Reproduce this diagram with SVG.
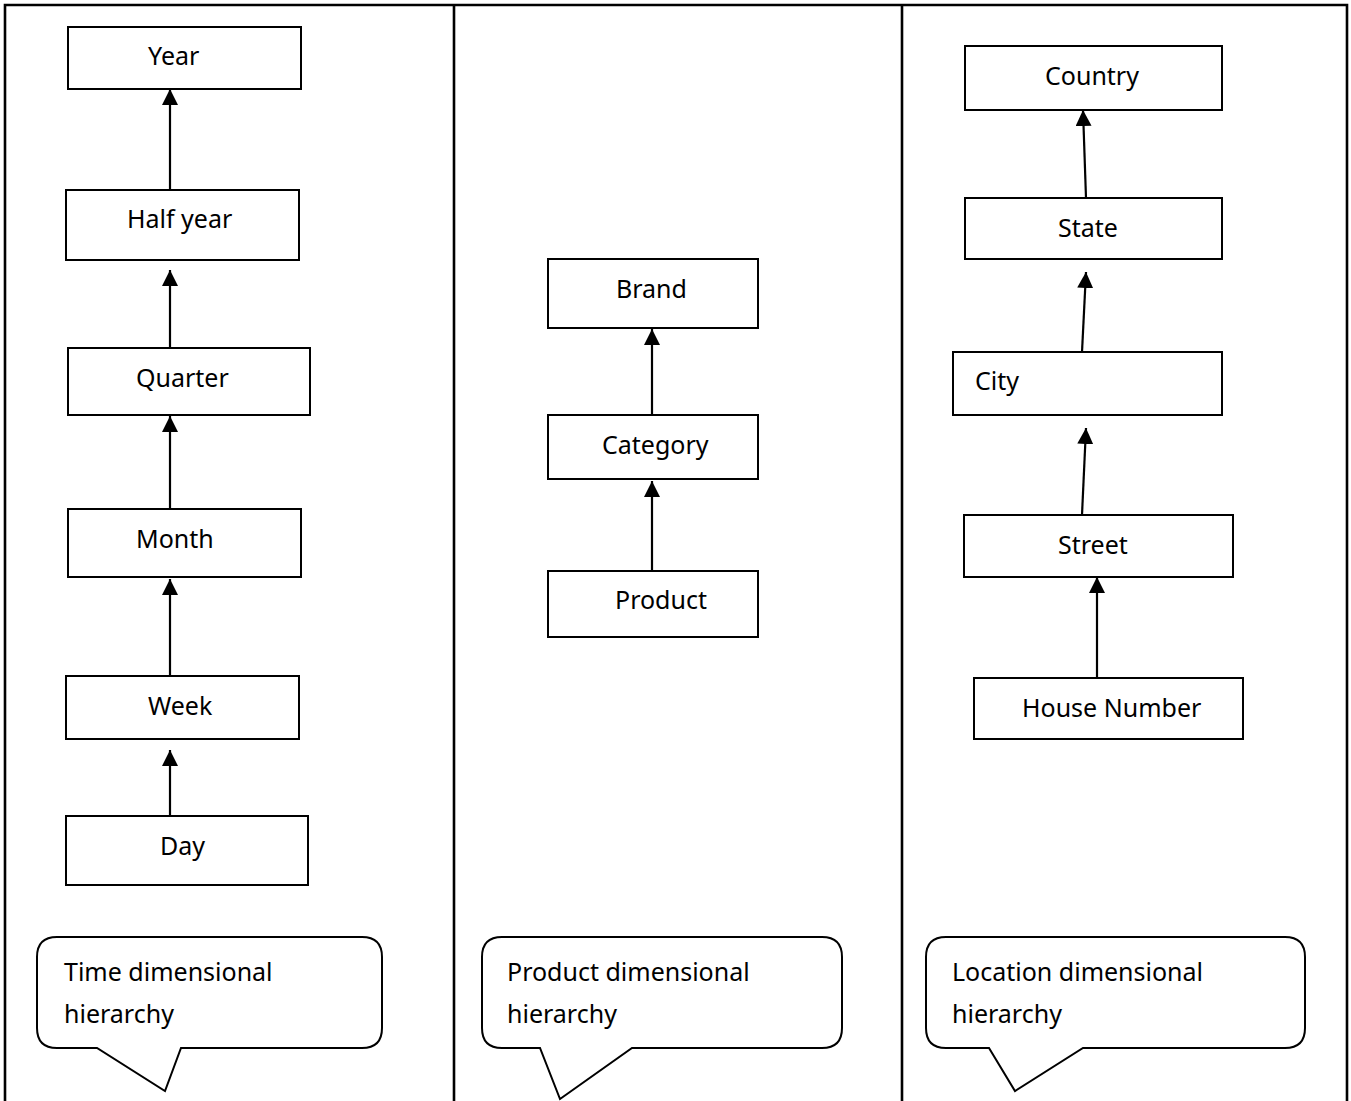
<svg xmlns="http://www.w3.org/2000/svg" width="1351" height="1101" viewBox="0 0 1351 1101">
<style>
.frame{stroke:#000;stroke-width:2.6;fill:none}
.box{fill:#fff;stroke:#000;stroke-width:2}
.lbl{font-family:"Noto Sans","Open Sans",sans-serif;font-size:25px;fill:#000}
.call{fill:#fff;stroke:#000;stroke-width:2;stroke-linejoin:miter}
</style>
<defs>
<marker id="tri" markerUnits="userSpaceOnUse" markerWidth="16" markerHeight="16" viewBox="0 0 16 16" refX="16" refY="8" orient="auto">
<path d="M0,0 L16,8 L0,16 Z" fill="#000"/>
</marker>
</defs>
<rect width="1351" height="1101" fill="#fff"/>
<g id="frame">
<path class="frame" d="M5,1101 V5 H1347 V1101"/>
<line class="frame" x1="454" y1="5" x2="454" y2="1101"/>
<line class="frame" x1="902" y1="5" x2="902" y2="1101"/>
</g>
<g id="connectors" stroke="#000" stroke-width="2.2" fill="none">
<line x1="170" y1="190" x2="170" y2="89" marker-end="url(#tri)"/>
<line x1="170" y1="348" x2="170" y2="270" marker-end="url(#tri)"/>
<line x1="170" y1="515" x2="170" y2="416" marker-end="url(#tri)"/>
<line x1="170" y1="676" x2="170" y2="579" marker-end="url(#tri)"/>
<line x1="170" y1="816" x2="170" y2="750" marker-end="url(#tri)"/>
<line x1="652" y1="415" x2="652" y2="329" marker-end="url(#tri)"/>
<line x1="652" y1="571" x2="652" y2="481" marker-end="url(#tri)"/>
<line x1="1086" y1="198" x2="1083" y2="110" marker-end="url(#tri)"/>
<line x1="1082" y1="352" x2="1086" y2="272" marker-end="url(#tri)"/>
<line x1="1082" y1="515" x2="1086" y2="428" marker-end="url(#tri)"/>
<line x1="1097" y1="678" x2="1097" y2="577" marker-end="url(#tri)"/>
</g>
<g id="n-year"><rect class="box" x="68" y="27" width="233" height="62"/><text class="lbl" x="148" y="65">Year</text></g>
<g id="n-halfyear"><rect class="box" x="66" y="190" width="233" height="70"/><text class="lbl" x="127" y="228">Half year</text></g>
<g id="n-quarter"><rect class="box" x="68" y="348" width="242" height="67"/><text class="lbl" x="136" y="387">Quarter</text></g>
<g id="n-month"><rect class="box" x="68" y="509" width="233" height="68"/><text class="lbl" x="136" y="548">Month</text></g>
<g id="n-week"><rect class="box" x="66" y="676" width="233" height="63"/><text class="lbl" x="148" y="715">Week</text></g>
<g id="n-day"><rect class="box" x="66" y="816" width="242" height="69"/><text class="lbl" x="160" y="855">Day</text></g>
<g id="n-brand"><rect class="box" x="548" y="259" width="210" height="69"/><text class="lbl" x="616" y="298">Brand</text></g>
<g id="n-category"><rect class="box" x="548" y="415" width="210" height="64"/><text class="lbl" x="602" y="454">Category</text></g>
<g id="n-product"><rect class="box" x="548" y="571" width="210" height="66"/><text class="lbl" x="615" y="609">Product</text></g>
<g id="n-country"><rect class="box" x="965" y="46" width="257" height="64"/><text class="lbl" x="1045" y="85">Country</text></g>
<g id="n-state"><rect class="box" x="965" y="198" width="257" height="61"/><text class="lbl" x="1058" y="237">State</text></g>
<g id="n-city"><rect class="box" x="953" y="352" width="269" height="63"/><text class="lbl" x="975" y="390">City</text></g>
<g id="n-street"><rect class="box" x="964" y="515" width="269" height="62"/><text class="lbl" x="1058" y="554">Street</text></g>
<g id="n-house"><rect class="box" x="974" y="678" width="269" height="61"/><text class="lbl" x="1022" y="717">House Number</text></g>
<g id="c-time">
<path class="call" d="M57,937 H362 Q382,937 382,957 V1028 Q382,1048 362,1048 H181 L165,1091 L97,1048 H57 Q37,1048 37,1028 V957 Q37,937 57,937 Z"/>
<text class="lbl" x="64" y="981">Time dimensional</text>
<text class="lbl" x="64" y="1023">hierarchy</text>
</g>
<g id="c-product">
<path class="call" d="M502,937 H822 Q842,937 842,957 V1028 Q842,1048 822,1048 H632 L560,1099 L540,1048 H502 Q482,1048 482,1028 V957 Q482,937 502,937 Z"/>
<text class="lbl" x="507" y="981">Product dimensional</text>
<text class="lbl" x="507" y="1023">hierarchy</text>
</g>
<g id="c-location">
<path class="call" d="M946,937 H1285 Q1305,937 1305,957 V1028 Q1305,1048 1285,1048 H1083 L1015,1091 L989,1048 H946 Q926,1048 926,1028 V957 Q926,937 946,937 Z"/>
<text class="lbl" x="952" y="981">Location dimensional</text>
<text class="lbl" x="952" y="1023">hierarchy</text>
</g>
</svg>
